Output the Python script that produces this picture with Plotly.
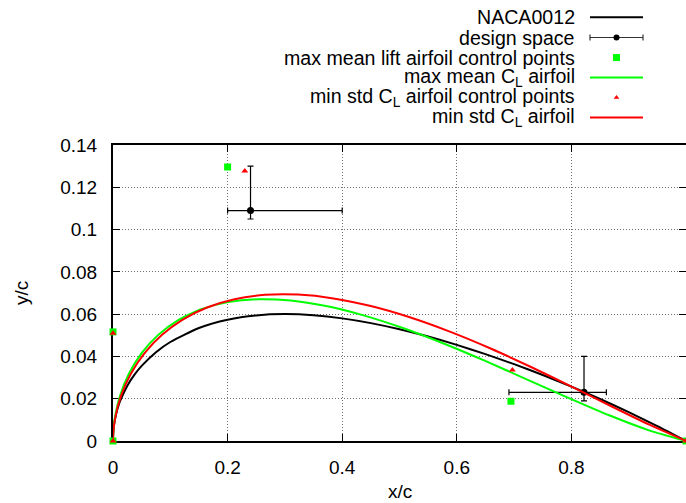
import plotly.graph_objects as go

# NACA0012 upper surface (closed trailing edge)
naca_x = [0.0, 0.0005, 0.00125, 0.0025, 0.005, 0.0075, 0.01, 0.0125, 0.025, 0.0375,
          0.05, 0.075, 0.1, 0.15, 0.2, 0.25, 0.3, 0.35, 0.4, 0.45, 0.5, 0.55,
          0.6, 0.65, 0.7, 0.75, 0.8, 0.85, 0.9, 0.95, 1.0]
naca_y = [0.0, 0.00395, 0.0062, 0.00872, 0.01221, 0.01485, 0.01704, 0.01894, 0.02615, 0.03137,
          0.03555, 0.042, 0.04683, 0.05345, 0.05737, 0.05941, 0.06002, 0.05947, 0.058, 0.05576, 0.05286, 0.04941,
          0.04547, 0.0411, 0.03634, 0.0312, 0.02571, 0.01987, 0.01365, 0.00704, 0.0]

# design space: centre points with their bounds
design_x = [0.24, 0.822]
design_y = [0.109, 0.023]
design_x_lo = [0.2, 0.691]
design_x_hi = [0.4, 0.861]
design_y_lo = [0.105, 0.019]
design_y_hi = [0.130, 0.040]

# max mean lift airfoil
green_ctrl_x = [0.0, 0.0, 0.2, 0.6945, 1.0]
green_ctrl_y = [0.0, 0.0516, 0.1296, 0.0188, 0.0]
green_x = [0.0, 0.00012, 0.00048, 0.00304, 0.0123, 0.02793, 0.04998, 0.07843, 0.11318, 0.15403,
           0.2007, 0.25284, 0.31, 0.37165, 0.43718, 0.5059, 0.57702, 0.64969, 0.72294,
           0.79576, 0.86702, 0.93553, 1.0]
green_y = [0.0, 0.00208, 0.00419, 0.01062, 0.02143, 0.03191, 0.04159, 0.05008, 0.05707, 0.06233,
           0.06568, 0.06704, 0.0664, 0.06381, 0.05942, 0.05343, 0.04612, 0.03786, 0.02907,
           0.02027, 0.01204, 0.00504, 0.0]

# min std airfoil
red_ctrl_x = [0.0, 0.0, 0.23, 0.697, 1.0]
red_ctrl_y = [0.0, 0.051, 0.1277, 0.0336, 0.0]
red_x = [0.0, 0.00014, 0.00055, 0.00345, 0.01379, 0.03094, 0.05477, 0.08509, 0.12165, 0.16413,
         0.21215, 0.26527, 0.323, 0.38477, 0.44997, 0.51791, 0.58784, 0.65897, 0.73042,
         0.80127, 0.87052, 0.93714, 1.0]
red_y = [0.0, 0.00206, 0.00414, 0.01049, 0.02122, 0.03167, 0.04142, 0.05011, 0.05743, 0.06315,
         0.06709, 0.06913, 0.06925, 0.06745, 0.06382, 0.05851, 0.05172, 0.04374, 0.03489,
         0.0256, 0.01632, 0.00759, 0.0]

x_tick_vals = [0, 0.2, 0.4, 0.6, 0.8]
x_tick_text = ["0", "0.2", "0.4", "0.6", "0.8"]
y_tick_vals = [0, 0.02, 0.04, 0.06, 0.08, 0.1, 0.12, 0.14]
y_tick_text = ["0", "0.02", "0.04", "0.06", "0.08", "0.1", "0.12", "0.14"]

legend_labels = [
    "NACA0012",
    "design space",
    "max mean lift airfoil control points",
    "max mean C<sub>L</sub> airfoil",
    "min std C<sub>L</sub> airfoil control points",
    "min std C<sub>L</sub> airfoil",
]

GREEN = "#00ff00"
RED = "#ff0000"
FONT = "Liberation Sans"
FS = 19
KEY_FS = 19.6

W, H = 686, 503
ML, MB = 113, 62
PLOT_TOP = 145
area_h = H - MB                       # height of the plotting area (top margin 0)
main_dom = (area_h - PLOT_TOP) / area_h
KEY_H = 135                           # key region height in px (top of figure)

fig = go.Figure()

fig.add_trace(go.Scatter(x=naca_x, y=naca_y, mode="lines",
                         line=dict(color="black", width=2, shape="spline", smoothing=0.6),
                         cliponaxis=False))

fig.add_trace(go.Scatter(
    x=design_x, y=design_y, mode="markers",
    marker=dict(color="black", size=7, symbol="circle"),
    error_x=dict(type="data", symmetric=False,
                 array=[h - c for h, c in zip(design_x_hi, design_x)],
                 arrayminus=[c - l for c, l in zip(design_x, design_x_lo)],
                 color="black", thickness=1.2, width=3),
    error_y=dict(type="data", symmetric=False,
                 array=[h - c for h, c in zip(design_y_hi, design_y)],
                 arrayminus=[c - l for c, l in zip(design_y, design_y_lo)],
                 color="black", thickness=1.2, width=3),
    cliponaxis=False))

fig.add_trace(go.Scatter(x=green_ctrl_x, y=green_ctrl_y, mode="markers",
                         marker=dict(color=GREEN, size=7, symbol="square"),
                         cliponaxis=False))
fig.add_trace(go.Scatter(x=green_x, y=green_y, mode="lines",
                         line=dict(color=GREEN, width=2, shape="spline", smoothing=0.6),
                         cliponaxis=False))
fig.add_trace(go.Scatter(x=red_ctrl_x, y=red_ctrl_y, mode="markers",
                         marker=dict(color=RED, size=6, symbol="triangle-up"),
                         cliponaxis=False))
fig.add_trace(go.Scatter(x=red_x, y=red_y, mode="lines",
                         line=dict(color=RED, width=2, shape="spline", smoothing=0.6),
                         cliponaxis=False))

# key: samples on a pixel-scaled overlay axis in the top strip
key_rows = [17.3, 37.5, 57.6, 77.6, 97.5, 117.4]
sx0, sx1 = 590, 643
sxm = (sx0 + sx1) / 2
for row, color in ((key_rows[0], "black"), (key_rows[3], GREEN), (key_rows[5], RED)):
    fig.add_trace(go.Scatter(x=[sx0, sx1], y=[row, row], mode="lines",
                             line=dict(color=color, width=2),
                             xaxis="x2", yaxis="y2", cliponaxis=False))
fig.add_trace(go.Scatter(x=[sxm], y=[key_rows[1]], mode="markers",
                         marker=dict(color="black", size=6),
                         error_x=dict(type="constant", value=(sx1 - sx0) / 2,
                                      color="#333333", thickness=1.2, width=3),
                         xaxis="x2", yaxis="y2", cliponaxis=False))
fig.add_trace(go.Scatter(x=[sxm], y=[key_rows[2]], mode="markers",
                         marker=dict(color=GREEN, size=7, symbol="square"),
                         xaxis="x2", yaxis="y2", cliponaxis=False))
fig.add_trace(go.Scatter(x=[sxm], y=[key_rows[4]], mode="markers",
                         marker=dict(color=RED, size=5, symbol="triangle-up"),
                         xaxis="x2", yaxis="y2", cliponaxis=False))

annotations = []
for label, row in zip(legend_labels, key_rows):
    annotations.append(dict(text=label, x=577, y=row, xref="x2", yref="y2",
                            xanchor="right", yanchor="middle", showarrow=False,
                            font=dict(family=FONT, size=KEY_FS, color="black")))

# axis titles
annotations.append(dict(text="y/c", x=(21 - ML) / (W - ML), y=0.5,
                        xref="x domain", yref="y domain", textangle=-90,
                        xanchor="center", yanchor="middle", showarrow=False,
                        font=dict(family=FONT, size=FS, color="black")))
annotations.append(dict(text="x/c", x=0.5, y=-(491 - area_h) / (area_h - PLOT_TOP),
                        xref="x domain", yref="y domain",
                        xanchor="center", yanchor="middle", showarrow=False,
                        font=dict(family=FONT, size=FS, color="black")))

axis_common = dict(
    showgrid=True, gridcolor="#707070", gridwidth=1, griddash="1px,2px",
    ticks="inside", ticklen=7, tickwidth=1, tickcolor="black",
    showline=True, linecolor="black", linewidth=2, mirror="ticks",
    zeroline=False, layer="below traces", automargin=False,
    tickfont=dict(family=FONT, size=FS, color="black"),
)

fig.update_layout(
    width=W, height=H,
    margin=dict(l=ML, r=0, t=0, b=MB, pad=0, autoexpand=False),
    paper_bgcolor="white", plot_bgcolor="white",
    showlegend=False,
    font=dict(family=FONT, size=FS, color="black"),
    xaxis=dict(range=[0, 1], domain=[0, 1], anchor="y",
               tickmode="array", tickvals=x_tick_vals, ticktext=x_tick_text,
               ticklabelstandoff=8, **axis_common),
    yaxis=dict(range=[0, 0.14], domain=[0, main_dom], anchor="x",
               tickmode="array", tickvals=y_tick_vals, ticktext=y_tick_text,
               ticklabelstandoff=10, **axis_common),
    xaxis2=dict(range=[ML, W], domain=[0, 1], anchor="y2", visible=False,
                fixedrange=True, automargin=False),
    yaxis2=dict(range=[KEY_H, 0], domain=[(area_h - KEY_H) / area_h, 1],
                anchor="x2", visible=False, fixedrange=True, automargin=False),
    annotations=annotations,
)

fig.write_html("out.html")
